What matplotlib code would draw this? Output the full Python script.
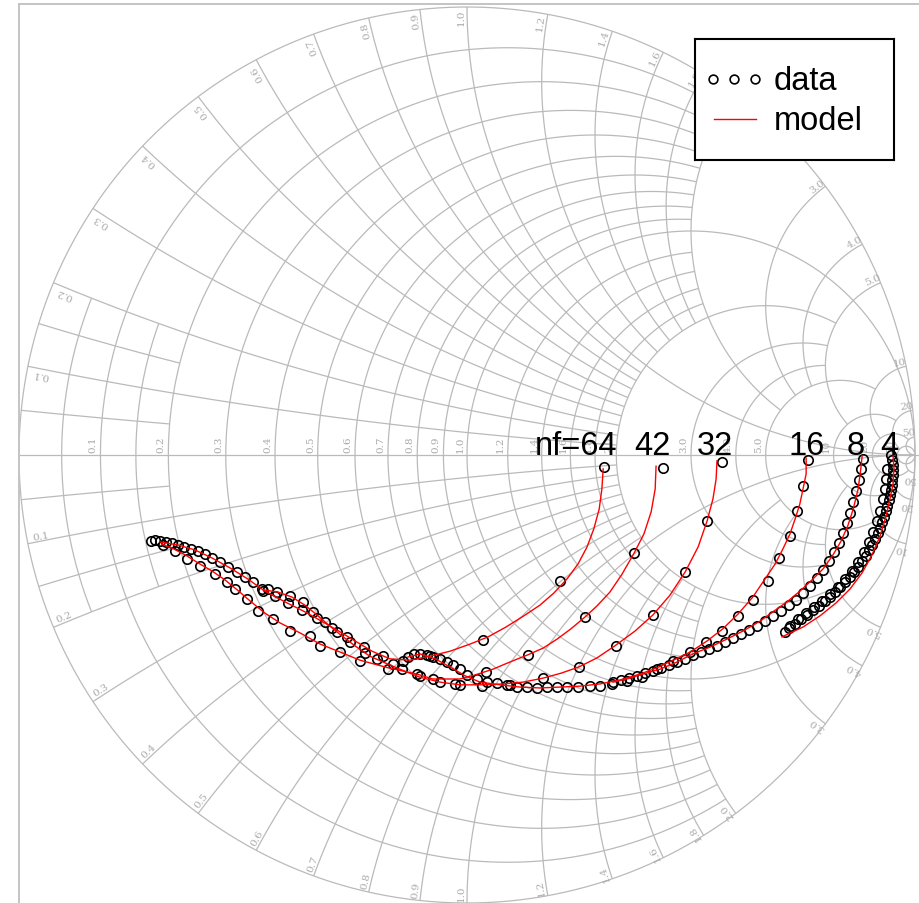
import numpy as np
import matplotlib
matplotlib.use("Agg")
import matplotlib.pyplot as plt

# ---------------------------------------------------------------
# Reflection coefficients (real, imag) for each finger count nf
# ---------------------------------------------------------------
nf4_model_re = [0.951, 0.953, 0.951, 0.944, 0.935, 0.922, 0.904, 0.882, 0.855, 0.824, 0.788, 0.750, 0.703]
nf4_model_im = [-0.002, -0.031, -0.065, -0.098, -0.138, -0.181, -0.223, -0.263, -0.299, -0.330, -0.359, -0.384, -0.406]
nf4_data_re = [0.946, 0.949, 0.951, 0.951, 0.951, 0.949, 0.949, 0.946, 0.944, 0.942, 0.938, 0.935, 0.931, 0.926,
               0.922, 0.917, 0.911, 0.904, 0.897, 0.891, 0.882, 0.873, 0.864, 0.855, 0.844, 0.833, 0.821, 0.810,
               0.799, 0.786, 0.772, 0.759, 0.746, 0.732, 0.719, 0.710,
               0.938, 0.935, 0.933, 0.929, 0.922, 0.915, 0.906, 0.897, 0.886, 0.873, 0.859, 0.844, 0.828, 0.810,
               0.792, 0.775, 0.757, 0.739, 0.721]
nf4_data_im = [0.000, -0.011, -0.022, -0.033, -0.045, -0.056, -0.067, -0.078, -0.089, -0.100, -0.114, -0.125, -0.138, -0.150,
               -0.163, -0.174, -0.188, -0.201, -0.212, -0.225, -0.237, -0.250, -0.261, -0.272, -0.283, -0.295, -0.306, -0.317,
               -0.326, -0.337, -0.346, -0.357, -0.366, -0.377, -0.386, -0.395,
               -0.031, -0.054, -0.076, -0.098, -0.125, -0.147, -0.172, -0.194, -0.217, -0.239, -0.259, -0.277, -0.295, -0.310,
               -0.326, -0.339, -0.353, -0.366, -0.382]

nf8_model_re = [0.882, 0.879, 0.873, 0.862, 0.850, 0.835, 0.817, 0.795, 0.772, 0.743, 0.714, 0.683, 0.654, 0.616,
                0.580, 0.542, 0.504, 0.469, 0.431, 0.393, 0.357, 0.326]
nf8_model_im = [-0.002, -0.031, -0.076, -0.121, -0.158, -0.192, -0.223, -0.254, -0.277, -0.304, -0.328, -0.350, -0.371, -0.393,
                -0.411, -0.429, -0.444, -0.462, -0.478, -0.489, -0.500, -0.507]
nf8_data_re = [0.884, 0.879, 0.875, 0.868, 0.862, 0.855, 0.848, 0.839, 0.830, 0.819, 0.808, 0.795, 0.781, 0.766,
               0.750, 0.734, 0.719, 0.701, 0.683, 0.665, 0.647, 0.629, 0.612, 0.594, 0.576, 0.558, 0.540, 0.522,
               0.504, 0.487, 0.469, 0.451, 0.433, 0.415, 0.397, 0.379, 0.362, 0.344, 0.326]
nf8_data_im = [-0.009, -0.031, -0.056, -0.080, -0.105, -0.129, -0.152, -0.174, -0.196, -0.217, -0.237, -0.257, -0.275, -0.292,
               -0.308, -0.324, -0.335, -0.348, -0.359, -0.371, -0.382, -0.391, -0.400, -0.408, -0.417, -0.426, -0.433, -0.440,
               -0.446, -0.455, -0.462, -0.469, -0.475, -0.482, -0.487, -0.493, -0.498, -0.502, -0.507]

nf16_model_re = [0.757, 0.757, 0.750, 0.743, 0.734, 0.721, 0.705, 0.688, 0.665, 0.638, 0.605, 0.571, 0.536, 0.498,
                 0.460, 0.424, 0.386, 0.342, 0.297, 0.252, 0.208, 0.163, 0.118, 0.074, 0.029, -0.004, -0.038, -0.071,
                 -0.105, -0.132]
nf16_model_im = [-0.007, -0.042, -0.076, -0.109, -0.138, -0.176, -0.210, -0.243, -0.277, -0.317, -0.355, -0.388, -0.415, -0.440,
                 -0.458, -0.475, -0.489, -0.502, -0.511, -0.516, -0.518, -0.520, -0.518, -0.513, -0.507, -0.493, -0.473, -0.455,
                 -0.444, -0.451]
nf16_data_re = [0.761, 0.750, 0.737, 0.721, 0.696, 0.672, 0.638, 0.605, 0.569, 0.533, 0.498, 0.460, 0.424, 0.391,
                0.357, 0.324, 0.297, 0.275, 0.248, 0.223, 0.201, 0.179, 0.156, 0.134, 0.112, 0.089, 0.067, 0.045,
                0.022, 0.000, -0.016, -0.031, -0.045, -0.060, -0.076, -0.089, -0.105, -0.118, -0.132]
nf16_data_im = [-0.011, -0.069, -0.125, -0.181, -0.230, -0.281, -0.324, -0.359, -0.393, -0.417, -0.440, -0.460, -0.478, -0.496,
                -0.504, -0.511, -0.516, -0.516, -0.518, -0.518, -0.518, -0.518, -0.520, -0.518, -0.518, -0.513, -0.509, -0.507,
                -0.500, -0.491, -0.478, -0.469, -0.462, -0.455, -0.451, -0.446, -0.444, -0.444, -0.451]

nf32_model_re = [0.558, 0.556, 0.549, 0.536, 0.516, 0.487, 0.453, 0.415, 0.375, 0.330, 0.290, 0.250, 0.210, 0.170,
                 0.125, 0.080, 0.036, -0.016, -0.060, -0.105, -0.150, -0.183, -0.217, -0.250, -0.279, -0.306, -0.335,
                 -0.362, -0.391, -0.422, -0.455]
nf32_model_im = [-0.013, -0.054, -0.098, -0.147, -0.205, -0.261, -0.313, -0.357, -0.393, -0.426, -0.453, -0.473, -0.487, -0.498,
                 -0.507, -0.511, -0.513, -0.513, -0.507, -0.496, -0.478, -0.464, -0.449, -0.426, -0.404, -0.382, -0.357,
                 -0.335, -0.317, -0.306, -0.301]
nf32_data_re = [0.569, 0.536, 0.487, 0.415, 0.333, 0.250, 0.170, 0.096, 0.033, -0.016, -0.060, -0.105, -0.145, -0.165,
                -0.201, -0.228, -0.261, -0.290, -0.317, -0.344, -0.366, -0.395, -0.424, -0.444, -0.455]
nf32_data_im = [-0.016, -0.147, -0.261, -0.357, -0.426, -0.473, -0.498, -0.513, -0.516, -0.513, -0.507, -0.493, -0.478, -0.467,
                -0.455, -0.442, -0.417, -0.395, -0.373, -0.350, -0.328, -0.315, -0.306, -0.299, -0.304]

nf42_model_re = [0.422, 0.420, 0.411, 0.395, 0.373, 0.346, 0.319, 0.290, 0.263, 0.232, 0.201, 0.170, 0.136, 0.096,
                 0.058, 0.018, -0.016, -0.076, -0.112, -0.176, -0.239, -0.283, -0.328, -0.373, -0.417, -0.451, -0.484,
                 -0.513, -0.540, -0.569, -0.600, -0.629, -0.658, -0.681]
nf42_model_im = [-0.025, -0.076, -0.127, -0.176, -0.219, -0.266, -0.306, -0.337, -0.362, -0.388, -0.411, -0.431, -0.446, -0.462,
                 -0.478, -0.491, -0.500, -0.500, -0.489, -0.475, -0.458, -0.440, -0.422, -0.397, -0.375, -0.353, -0.326,
                 -0.301, -0.279, -0.259, -0.241, -0.223, -0.208, -0.199]
nf42_data_re = [0.438, 0.373, 0.263, 0.136, 0.042, -0.027, -0.076, -0.112, -0.176, -0.239, -0.283, -0.328, -0.350, -0.395,
                -0.433, -0.467, -0.491, -0.518, -0.536, -0.562, -0.596, -0.625, -0.652, -0.679]
nf42_data_im = [-0.029, -0.219, -0.362, -0.446, -0.484, -0.511, -0.500, -0.489, -0.478, -0.460, -0.440, -0.426, -0.404, -0.393,
                -0.366, -0.348, -0.321, -0.299, -0.283, -0.266, -0.248, -0.232, -0.214, -0.201]

nf64_model_re = [0.304, 0.301, 0.295, 0.283, 0.268, 0.248, 0.223, 0.194, 0.163, 0.127, 0.087, 0.047, 0.007, -0.038,
                 -0.083, -0.127, -0.172, -0.212, -0.250, -0.283, -0.321, -0.362, -0.406, -0.451, -0.489, -0.529, -0.569,
                 -0.607, -0.645, -0.685]
nf64_model_im = [-0.031, -0.076, -0.121, -0.165, -0.205, -0.243, -0.277, -0.308, -0.335, -0.359, -0.384, -0.406, -0.422, -0.438,
                 -0.449, -0.458, -0.455, -0.438, -0.415, -0.395, -0.373, -0.350, -0.328, -0.304, -0.277, -0.252, -0.230,
                 -0.212, -0.201, -0.194]
nf64_data_re = [0.306, 0.208, 0.036, -0.083, -0.143, -0.188, -0.230, -0.268, -0.301, -0.335, -0.368, -0.400, -0.429, -0.458,
                -0.478, -0.496, -0.513, -0.533, -0.551, -0.569, -0.585, -0.600, -0.616, -0.632, -0.645, -0.658, -0.672,
                -0.685, -0.696, -0.705]
nf64_data_im = [-0.027, -0.281, -0.413, -0.449, -0.460, -0.449, -0.429, -0.406, -0.386, -0.364, -0.346, -0.330, -0.315, -0.299,
                -0.283, -0.272, -0.261, -0.250, -0.239, -0.230, -0.221, -0.214, -0.210, -0.205, -0.201, -0.196, -0.194,
                -0.192, -0.190, -0.192]

finger_labels = ["nf=64", "42", "32", "16", "8", "4"]
finger_label_re = [0.243, 0.413, 0.554, 0.759, 0.868, 0.942]

# Smith grid: circle/arc value and how far it is drawn along the other coordinate
grid_values = [0.05, 0.15, 0.1, 0.3, 0.5, 0.7, 0.9, 0.2, 0.4, 0.6, 0.8, 1.0,
               1.2, 1.4, 1.6, 1.8, 2.0, 3.0, 4.0, 5.0, 10.0, 20.0, 50.0]
grid_limits = [0.2, 0.2, 2.0, 2.0, 2.0, 2.0, 2.0, 2.0, 2.0, 2.0, 2.0, np.inf,
               2.0, 2.0, 2.0, 2.0, 5.0, 5.0, 5.0, 10.0, 20.0, 50.0, np.inf]
label_values = [0.1, 0.2, 0.3, 0.4, 0.5, 0.6, 0.7, 0.8, 0.9, 1.0, 1.2, 1.4, 1.6, 1.8,
                2.0, 3.0, 4.0, 5.0, 10.0, 20.0, 50.0]

GRID = "#bababa"
LABEL = "#a8a8a8"


def gamma(z):
    return (z - 1) / (z + 1)


def fmt(v):
    return f"{v:.1f}" if v < 10 else f"{int(v)}"


fig = plt.figure(figsize=(9.2, 9.04), dpi=100)
ax = fig.add_axes([19 / 920, -6 / 904, 906 / 920, 905 / 904])
ax.set_xlim(-1.0, 1.0223)
ax.set_ylim(-1.0134, 1.0067)
ax.set_xticks([])
ax.set_yticks([])
for side in ("right", "bottom"):
    ax.spines[side].set_visible(False)
for side in ("left", "top"):
    ax.spines[side].set_color("#c4c4c4")
    ax.spines[side].set_linewidth(1.4)

gkw = dict(color=GRID, lw=0.9, zorder=1, solid_capstyle="butt")

# outer boundary and real axis
th = np.linspace(0, 2 * np.pi, 1000)
ax.plot(np.cos(th), np.sin(th), **gkw)
ax.plot([-1.0, 1.03], [0, 0], **gkw)

for v, lim in zip(grid_values, grid_limits):
    a = np.arctan(lim) if np.isfinite(lim) else np.pi / 2 - 1e-5
    t = np.linspace(-a, a, 900)
    g = gamma(v + 1j * np.tan(t))
    ax.plot(g.real, g.imag, **gkw)
    r = np.tan(np.linspace(0, a, 900))
    for s in (1, -1):
        g = gamma(r + 1j * s * v)
        ax.plot(g.real, g.imag, **gkw)

lab_kw = dict(color=LABEL, fontsize=7.5, family="DejaVu Serif", zorder=1)
for v in label_values:
    gx = (v - 1) / (v + 1)
    ax.text(gx - 0.006, 0.006, fmt(v), rotation=90, ha="right", va="bottom", **lab_kw)
    ge = gamma(1j * v)
    th0 = np.degrees(np.angle(ge))
    for s in (1, -1):
        ang = s * th0 + s * 0.7
        rad = np.radians(ang)
        rr = 0.978 + 0.01 * np.cos(rad)
        rot = ang % 180
        ax.text(rr * np.cos(rad), rr * np.sin(rad), fmt(v), rotation=rot,
                ha="center", va="center", **lab_kw)

# measured data and model
mkw = dict(ls="none", marker="o", ms=6.8, mfc="none", mec="black", mew=1.2, zorder=3)
lkw = dict(color="red", lw=1.0, zorder=4)
series = [
    (nf4_model_re, nf4_model_im, nf4_data_re, nf4_data_im),
    (nf8_model_re, nf8_model_im, nf8_data_re, nf8_data_im),
    (nf16_model_re, nf16_model_im, nf16_data_re, nf16_data_im),
    (nf32_model_re, nf32_model_im, nf32_data_re, nf32_data_im),
    (nf42_model_re, nf42_model_im, nf42_data_re, nf42_data_im),
    (nf64_model_re, nf64_model_im, nf64_data_re, nf64_data_im),
]
for mre, mim, dre, dim in series:
    ax.plot(dre, dim, **mkw)
    ax.plot(mre, mim, **lkw)

for lab, xr in zip(finger_labels, finger_label_re):
    ax.text(xr, 0.003, lab, ha="center", va="baseline", fontsize=23.5,
            family="Liberation Sans", color="black", zorder=5)

# legend box, laid out in its own pixel-scaled axes
lg = fig.add_axes([695 / 920, 1 - 161 / 904, 199 / 920, 121 / 904])
lg.set_xlim(0, 199)
lg.set_ylim(121, 0)
lg.set_xticks([])
lg.set_yticks([])
for sp in lg.spines.values():
    sp.set_color("black")
    sp.set_linewidth(1.5)
lg.plot([18, 39, 60], [40, 40, 40], ls="none", marker="o", ms=6.3, mfc="none", mec="black", mew=1.2)
lg.plot([19, 61], [80, 80], color="red", lw=1.0)
lg.text(79, 41, "data", ha="left", va="center", fontsize=23.5, family="Liberation Sans")
lg.text(79, 81, "model", ha="left", va="center", fontsize=23.5, family="Liberation Sans")

fig.savefig("out.png", dpi=100, facecolor="white")
